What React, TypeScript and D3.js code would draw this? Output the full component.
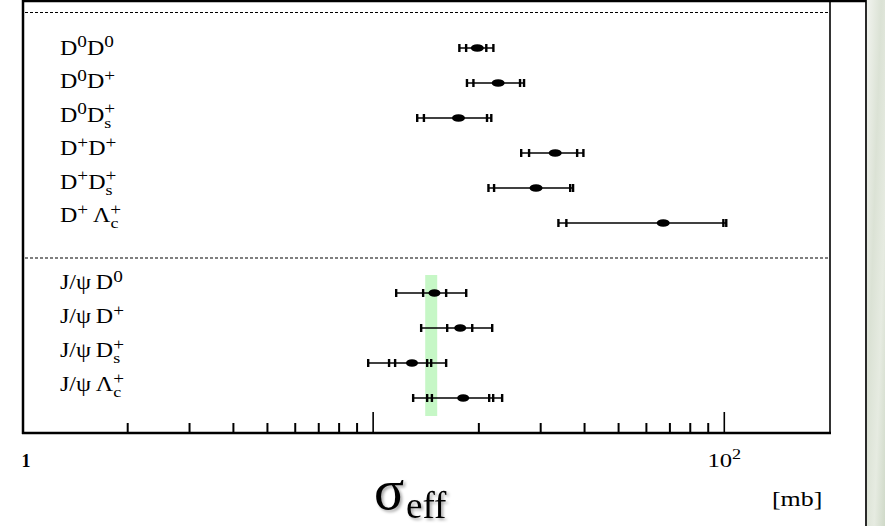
import React from "react";
import * as d3 from "d3";

// ---------- data ----------
type Seg = [string, string?, string?]; // base, superscript, subscript

const pairLabels: Seg[][] = [
  [["D", "0"], ["D", "0"]],
  [["D", "0"], ["D", "+"]],
  [["D", "0"], ["D", "+", "s"]],
  [["D", "+"], ["D", "+"]],
  [["D", "+"], ["D", "+", "s"]],
  [["D", "+"], ["\u2009Λ", "+", "c"]],
];
const pairValues = [19.8, 22.7, 17.5, 33.0, 29.1, 67.0];
const pairCapsLow = [[17.6, 18.4], [18.5, 19.3], [13.35, 13.95], [26.4, 27.8], [21.3, 22.1], [33.7, 35.5]];
const pairCapsHigh = [[21.0, 22.0], [26.2, 26.9], [21.1, 21.7], [38.1, 39.7], [36.4, 37.1], [99.4, 101.3]];

const jpsiLabels: Seg[][] = [
  [["J/ψ\u2009"], ["D", "0"]],
  [["J/ψ\u2009"], ["D", "+"]],
  [["J/ψ\u2009"], ["D", "+", "s"]],
  [["J/ψ\u2009"], ["Λ", "+", "c"]],
];
const jpsiValues = [14.95, 17.7, 12.9, 18.05];
const jpsiCapsLow = [[11.63, 13.88], [13.7, 16.25], [9.68, 11.1, 11.55], [13.0, 14.25, 14.7]];
const jpsiCapsHigh = [[16.14, 18.41], [19.15, 21.83], [14.25, 14.63, 16.14], [21.4, 21.97, 23.3]];

const bandRange = [14.07, 15.22];

const majorTicks = [10, 100];
const minorTicks = [2, 3, 4, 5, 6, 7, 8, 9, 20, 30, 40, 50, 60, 70, 80, 90];
const tickLabelValues = [1, 100];

// ---------- layout ----------
const W = 885;
const H = 526;
const axisY = 433;

const x = d3.scaleLog().domain([1, 200]).range([22, 830]);
// point rows: upper panel 0..5, lower panel 7..10
const yRow = d3.scaleLinear().domain([0, 1]).range([48, 83]);
const yLabelUpper = d3.scaleLinear().domain([0, 1]).range([55, 88.5]);
const yLabelLower = d3.scaleLinear().domain([0, 1]).range([289.5, 323.5]);

const serif = "'Liberation Serif', 'Times New Roman', serif";

function Label({ segs, baseline }: { segs: Seg[]; baseline: number }) {
  const parts: React.ReactNode[] = [];
  segs.forEach((s, i) => {
    const [base, sup, sub] = s;
    parts.push(
      <tspan key={i + "b"} y={baseline} fontSize={20}>
        {base}
      </tspan>
    );
    if (sup) {
      parts.push(
        <tspan key={i + "p"} y={baseline - 7.5} fontSize={16}>
          {sup}
        </tspan>
      );
    }
    if (sub) {
      parts.push(
        <tspan key={i + "s"} y={baseline + 6} dx={sup === "+" ? -9 : -8} fontSize={15}>
          {sub}
        </tspan>
      );
    }
  });
  return (
    <g transform={`translate(60,0) scale(1.2,1) translate(-60,0)`}>
      <text x={60} fontFamily={serif} fill="#000">
        {parts}
      </text>
    </g>
  );
}

function ErrorRow({
  value,
  low,
  high,
  y,
  rx,
}: {
  value: number;
  low: number[];
  high: number[];
  y: number;
  rx: number;
}) {
  const all = [...low, ...high];
  const x0 = x(d3.min(all) as number);
  const x1 = x(d3.max(all) as number);
  return (
    <g>
      <line x1={x0} x2={x1} y1={y} y2={y} stroke="#000" strokeWidth={1.7} />
      {all.map((v, i) => (
        <line key={i} x1={x(v)} x2={x(v)} y1={y - 4} y2={y + 4} stroke="#000" strokeWidth={2.4} />
      ))}
      <ellipse cx={x(value)} cy={y} rx={rx} ry={3.8} fill="#000" />
    </g>
  );
}

export default function App() {
  return (
    <svg
      width={W}
      height={H}
      viewBox={`0 0 ${W} ${H}`}
      style={{ position: "absolute", left: 0, top: 0, background: "#fff" }}
    >
      <defs>
        <filter id="shadow" x="-20%" y="-20%" width="140%" height="140%">
          <feDropShadow dx="2" dy="2" stdDeviation="1.5" floodColor="#000" floodOpacity="0.35" />
        </filter>
        <linearGradient id="tex" x1="0" y1="0" x2="1" y2="1">
          <stop offset="0" stopColor="#f2f4ef" />
          <stop offset="0.4" stopColor="#dbe2d5" />
          <stop offset="0.7" stopColor="#e6ebe1" />
          <stop offset="1" stopColor="#cfd9c8" />
        </linearGradient>
      </defs>

      {/* right decorative background strip */}
      <rect x={867} y={0} width={18} height={H} fill="url(#tex)" />
      <line x1={866} x2={866} y1={0} y2={H} stroke="#2a2a2a" strokeWidth={2} />

      {/* green band */}
      <rect
        x={x(bandRange[0])}
        y={275}
        width={x(bandRange[1]) - x(bandRange[0])}
        height={141}
        fill="#c6f7c6"
      />

      {/* frame */}
      <line x1={22} x2={866} y1={1} y2={1} stroke="#000" strokeWidth={2.5} />
      <line x1={23} x2={23} y1={0} y2={axisY + 1} stroke="#000" strokeWidth={2.5} />
      <line x1={22} x2={831} y1={axisY} y2={axisY} stroke="#000" strokeWidth={2.5} />
      <line x1={830} x2={830} y1={0} y2={axisY + 1} stroke="#000" strokeWidth={1.6} />

      {/* dashed separators */}
      <line x1={25} x2={829} y1={12.5} y2={12.5} stroke="#000" strokeWidth={1.2} strokeDasharray="3,2" />
      <line x1={25} x2={829} y1={258} y2={258} stroke="#000" strokeWidth={1.2} strokeDasharray="3,2" />

      {/* ticks */}
      {minorTicks.map((t) => (
        <line key={"m" + t} x1={x(t)} x2={x(t)} y1={axisY} y2={axisY - 10} stroke="#000" strokeWidth={2} />
      ))}
      {majorTicks.map((t) => (
        <line key={"M" + t} x1={x(t)} x2={x(t)} y1={axisY} y2={axisY - 21} stroke="#000" strokeWidth={1.6} />
      ))}

      {/* tick labels */}
      <text x={x(tickLabelValues[0]) + 4} y={467} fontFamily={serif} fontSize={18} fontWeight={700} textAnchor="middle">
        1
      </text>
      <g transform={`translate(${x(tickLabelValues[1])},0) scale(1.3,1)`}>
        <text x={0} y={467} fontFamily={serif} fontSize={19} textAnchor="middle">
          10
          <tspan dy={-8} fontSize={14}>
            2
          </tspan>
        </text>
      </g>

      {/* upper panel */}
      {pairValues.map((v, i) => (
        <ErrorRow key={"p" + i} value={v} low={pairCapsLow[i]} high={pairCapsHigh[i]} y={yRow(i)} rx={6.5} />
      ))}
      {pairLabels.map((segs, i) => (
        <Label key={"pl" + i} segs={segs} baseline={yLabelUpper(i)} />
      ))}

      {/* lower panel */}
      {jpsiValues.map((v, i) => (
        <ErrorRow key={"j" + i} value={v} low={jpsiCapsLow[i]} high={jpsiCapsHigh[i]} y={yRow(i + 7)} rx={6} />
      ))}
      {jpsiLabels.map((segs, i) => (
        <Label key={"jl" + i} segs={segs} baseline={yLabelLower(i)} />
      ))}

      {/* axis title */}
      <g filter="url(#shadow)">
        <text x={374} y={509} fontFamily={serif} fontSize={56} fill="#000">
          σ
        </text>
        <text x={406} y={518} fontFamily={serif} fontSize={37} fill="#000">
          eff
        </text>
      </g>
      <g transform="translate(772,0) scale(1.18,1) translate(-772,0)">
        <text x={772} y={506} fontFamily={serif} fontSize={22} fill="#000">
          [mb]
        </text>
      </g>
    </svg>
  );
}
